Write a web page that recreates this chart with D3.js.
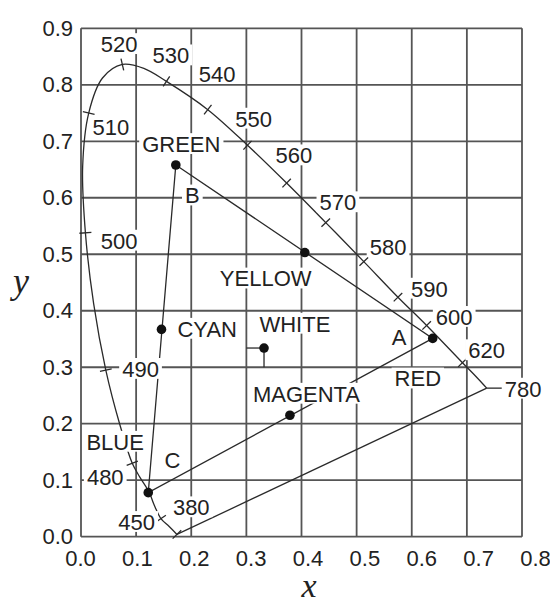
<!DOCTYPE html>
<html>
<head>
<meta charset="utf-8">
<script src="https://cdn.jsdelivr.net/npm/d3@7"></script>
<style>
  body { margin: 0; background: #fff; }
  svg text { font-family: 'Liberation Sans', Arial, sans-serif; fill: #222; }
</style>
</head>
<body>
<div id="graph"></div>
<script>
// spectral locus: wavelength (nm), x, y
var wavelengths = [380, 440, 450, 465, 470, 477, 480, 485, 490, 495, 500, 505, 510, 515, 520, 525, 530, 540, 550, 560, 570, 580, 590, 600, 620, 640, 780]
var locusX = [0.174, 0.160, 0.145, 0.132, 0.124, 0.107, 0.093, 0.070, 0.045, 0.023, 0.008, 0.003, 0.014, 0.039, 0.075, 0.114, 0.155, 0.230, 0.302, 0.373, 0.444, 0.513, 0.575, 0.627, 0.692, 0.719, 0.736]
var locusY = [0.004, 0.018, 0.032, 0.058, 0.078, 0.105, 0.130, 0.200, 0.295, 0.412, 0.538, 0.655, 0.750, 0.812, 0.836, 0.829, 0.806, 0.756, 0.693, 0.626, 0.556, 0.487, 0.424, 0.374, 0.308, 0.281, 0.263]
var tickWavelengths = [380, 450, 480, 490, 500, 510, 520, 530, 540, 550, 560, 570, 580, 590, 600, 620]

// primaries and mixtures
var pointNames = ['GREEN', 'RED', 'BLUE', 'YELLOW', 'CYAN', 'MAGENTA', 'WHITE']
var pointX = [0.172, 0.638, 0.122, 0.406, 0.146, 0.379, 0.332]
var pointY = [0.658, 0.351, 0.078, 0.503, 0.367, 0.215, 0.334]

// annotation text, centre x and baseline y in chart units
var labelText = ['520', '530', '540', '550', '510', '500', '560', '570', '580', '590', '600', '620', '780', '490', '480', '450', '380',
  'GREEN', 'YELLOW', 'CYAN', 'WHITE', 'MAGENTA', 'RED', 'BLUE', 'A', 'B', 'C']
var labelX = [0.069, 0.163, 0.247, 0.313, 0.054, 0.069, 0.386, 0.466, 0.557, 0.632, 0.677, 0.736, 0.802, 0.108, 0.044, 0.101, 0.200,
  0.182, 0.335, 0.229, 0.388, 0.409, 0.611, 0.062, 0.577, 0.202, 0.166]
var labelY = [0.858, 0.838, 0.805, 0.726, 0.711, 0.510, 0.661, 0.578, 0.499, 0.425, 0.375, 0.316, 0.248, 0.283, 0.092, 0.012, 0.038,
  0.681, 0.443, 0.354, 0.363, 0.239, 0.266, 0.154, 0.339, 0.590, 0.121]

var xTicks = [0, 0.1, 0.2, 0.3, 0.4, 0.5, 0.6, 0.7, 0.8]
var yTicks = [0, 0.1, 0.2, 0.3, 0.4, 0.5, 0.6, 0.7, 0.8, 0.9]

var width = 550
var height = 601
var fontSize = 22

var svg = d3
  .select('#graph')
  .append('svg')
  .attr('width', width)
  .attr('height', height)

var x = d3.scaleLinear().domain([0, 0.8]).range([81, 522])
var y = d3.scaleLinear().domain([0, 0.9]).range([536.7, 28.3])
// the printed x tick labels run a little wider than the grid itself
var xLabels = d3.scaleLinear().domain([0, 0.8]).range([80, 535])

// grid
var grid = svg.append('g').attr('stroke', '#555').attr('stroke-width', 1.8)
grid
  .selectAll('.vgrid')
  .data(xTicks)
  .enter()
  .append('line')
  .attr('x1', function(d) { return x(d) })
  .attr('x2', function(d) { return x(d) })
  .attr('y1', y(0))
  .attr('y2', y(0.9))
grid
  .selectAll('.hgrid')
  .data(yTicks)
  .enter()
  .append('line')
  .attr('x1', x(0))
  .attr('x2', x(0.8))
  .attr('y1', function(d) { return y(d) })
  .attr('y2', function(d) { return y(d) })

// axes
svg
  .append('g')
  .attr('transform', 'translate(0,' + y(0) + ')')
  .style('font-size', fontSize + 'px')
  .call(d3.axisBottom(xLabels).tickValues(xTicks).tickSize(0).tickPadding(14).tickFormat(d3.format('.1f')))
  .call(function(g) { g.select('.domain').remove() })
svg
  .append('g')
  .attr('transform', 'translate(' + x(0) + ',0)')
  .style('font-size', fontSize + 'px')
  .call(d3.axisLeft(y).tickValues(yTicks).tickSize(0).tickPadding(8).tickFormat(d3.format('.1f')))
  .call(function(g) { g.select('.domain').remove() })
svg.selectAll('.tick text').attr('fill', '#222').style('font-family', "'Liberation Sans', Arial, sans-serif")

svg
  .append('text')
  .attr('x', 21)
  .attr('y', 293)
  .attr('text-anchor', 'middle')
  .style('font-family', "'Liberation Serif', 'Times New Roman', serif")
  .style('font-style', 'italic')
  .style('font-size', '36px')
  .text('y')
svg
  .append('text')
  .attr('x', 309)
  .attr('y', 597)
  .attr('text-anchor', 'middle')
  .style('font-family', "'Liberation Serif', 'Times New Roman', serif")
  .style('font-style', 'italic')
  .style('font-size', '34px')
  .text('x')

// locus
var locus = wavelengths.map(function(w, i) {
  return { w: w, x: locusX[i], y: locusY[i] }
})
var line = d3
  .line()
  .x(function(d) { return x(d.x) })
  .y(function(d) { return y(d.y) })

var marks = svg.append('g').attr('fill', 'none').attr('stroke', '#2a2a2a').attr('stroke-width', 1.3)
marks.append('path').attr('d', line.curve(d3.curveCatmullRom)(locus))
// line of purples
marks.append('path').attr('d', d3.line().x(function(d) { return x(d.x) }).y(function(d) { return y(d.y) })([locus[locus.length - 1], locus[0]]))

// wavelength ticks, perpendicular to the locus
tickWavelengths.forEach(function(w) {
  var i = wavelengths.indexOf(w)
  var a = locus[Math.max(0, i - 1)]
  var b = locus[Math.min(locus.length - 1, i + 1)]
  var dx = x(b.x) - x(a.x)
  var dy = y(b.y) - y(a.y)
  var len = Math.sqrt(dx * dx + dy * dy)
  var nx = -dy / len
  var ny = dx / len
  var cx = x(locus[i].x)
  var cy = y(locus[i].y)
  marks
    .append('line')
    .attr('x1', cx - nx * 6)
    .attr('y1', cy - ny * 6)
    .attr('x2', cx + nx * 6)
    .attr('y2', cy + ny * 6)
})

// colour triangle: green, red, blue
var tri = [0, 1, 2, 0].map(function(i) { return { x: pointX[i], y: pointY[i] } })
marks.append('path').attr('d', d3.line().x(function(d) { return x(d.x) }).y(function(d) { return y(d.y) })(tri))

// white point drop lines
var wi = pointNames.indexOf('WHITE')
marks.append('line').attr('x1', x(0.3)).attr('x2', x(pointX[wi])).attr('y1', y(pointY[wi])).attr('y2', y(pointY[wi]))
marks.append('line').attr('x1', x(pointX[wi])).attr('x2', x(pointX[wi])).attr('y1', y(pointY[wi])).attr('y2', y(0.3))

// labels with white backing that breaks the lines under them
var labels = svg.append('g').style('font-size', fontSize + 'px')
var backs = labels.append('g')
var texts = labels.append('g')
labelText.forEach(function(t, i) {
  var tx = texts
    .append('text')
    .attr('x', x(labelX[i]))
    .attr('y', y(labelY[i]))
    .attr('text-anchor', 'middle')
    .text(t)
  var w = tx.node().getComputedTextLength()
  backs
    .append('rect')
    .attr('x', x(labelX[i]) - w / 2 - 3)
    .attr('y', y(labelY[i]) - fontSize * 0.72 - 3)
    .attr('width', w + 6)
    .attr('height', fontSize * 0.72 + 5)
    .attr('fill', '#fff')
  if (t === '780') {
    marks
      .append('line')
      .attr('x1', x(locusX[locusX.length - 1]))
      .attr('y1', y(locusY[locusY.length - 1]))
      .attr('x2', x(labelX[i]) - w / 2 - 2)
      .attr('y2', y(locusY[locusY.length - 1]))
  }
})

// points
svg
  .append('g')
  .selectAll('circle')
  .data(pointNames)
  .enter()
  .append('circle')
  .attr('cx', function(d, i) { return x(pointX[i]) })
  .attr('cy', function(d, i) { return y(pointY[i]) })
  .attr('r', 4.8)
  .attr('fill', '#111')
</script>
</body>
</html>
